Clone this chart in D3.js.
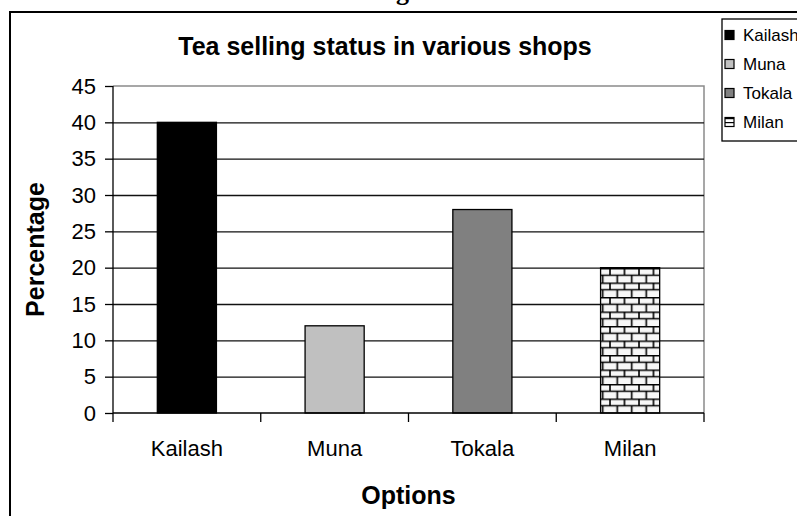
<!DOCTYPE html>
<html>
<head>
<meta charset="utf-8">
<script src="https://cdn.jsdelivr.net/npm/d3@7"></script>
<style>
  html, body { margin: 0; padding: 0; background: #fff; }
  svg { display: block; }
  text { font-family: "Liberation Sans", Arial, sans-serif; fill: #000; }
</style>
</head>
<body>
<svg id="chart" width="797" height="516"></svg>
<script>
// Shops and their tea selling percentages
const categories = ["Kailash", "Muna", "Tokala", "Milan"];
const values = [40, 12, 28, 20];
const yTicks = [0, 5, 10, 15, 20, 25, 30, 35, 40, 45];
const titleText = "Tea selling status in various shops";
const xTitle = "Options";
const yTitle = "Percentage";

const fills = ["#000000", "#c0c0c0", "#808080", "url(#brick)"];

const svg = d3.select("#chart");
const plot = { left: 113, top: 86, right: 704, bottom: 413 };

// Brick fill used by the last bar and its legend key
const defs = svg.append("defs");
const s = 14.5;
const pat = defs.append("pattern")
  .attr("id", "brick").attr("patternUnits", "userSpaceOnUse")
  .attr("x", 0).attr("y", plot.bottom)
  .attr("width", s).attr("height", s);
pat.append("rect").attr("width", s).attr("height", s).attr("fill", "#f7f7f7");
pat.append("path")
  .attr("d", `M0,0.6H${s} M0,${s/2}H${s} M1,0V${s/2} M${s/2+1},${s/2}V${s}`)
  .attr("stroke", "#000").attr("stroke-width", 1.6).attr("fill", "none");
const small = defs.append("pattern")
  .attr("id", "brickSmall").attr("patternUnits", "userSpaceOnUse")
  .attr("width", 8).attr("height", 4);
small.append("rect").attr("width", 8).attr("height", 4).attr("fill", "#fff");
small.append("path").attr("d", "M0,0.5H8").attr("stroke", "#000").attr("stroke-width", 1.4);

// Partially visible heading above the chart frame
svg.append("text")
  .attr("x", 396).attr("y", 0)
  .style("font-family", "'Liberation Serif', 'Times New Roman', serif")
  .style("font-weight", "bold").style("font-size", "26px")
  .text("g");

// Chart area frame
svg.append("rect")
  .attr("x", 10).attr("y", 12).attr("width", 820).attr("height", 540)
  .attr("fill", "none").attr("stroke", "#000").attr("stroke-width", 2);

const x = d3.scaleBand()
  .domain(categories)
  .range([plot.left, plot.right])
  .paddingInner(0.6).paddingOuter(0.3);

const y = d3.scaleLinear()
  .domain([0, 45])
  .range([plot.bottom, plot.top]);

// Plot area border (top / right)
svg.append("path")
  .attr("d", `M${plot.left},${plot.top}H${plot.right}V${plot.bottom}`)
  .attr("fill", "none").attr("stroke", "#8a8a8a").attr("stroke-width", 1.5);

// Horizontal gridlines
const grid = svg.append("g")
  .attr("transform", `translate(${plot.left},0)`)
  .call(d3.axisLeft(y).tickValues(yTicks.filter(t => t > 0 && t < 45))
    .tickSize(-(plot.right - plot.left)).tickFormat(""));
grid.select(".domain").remove();
grid.selectAll("line").attr("stroke", "#111").attr("stroke-width", 1.4);

// Bars
svg.append("g").selectAll("rect")
  .data(categories)
  .join("rect")
  .attr("x", d => x(d))
  .attr("y", (d, i) => y(values[i]))
  .attr("width", x.bandwidth())
  .attr("height", (d, i) => y(0) - y(values[i]))
  .attr("fill", (d, i) => fills[i])
  .attr("stroke", "#000").attr("stroke-width", 1.3);

// Y axis
const yAxis = svg.append("g")
  .attr("transform", `translate(${plot.left},0)`)
  .call(d3.axisLeft(y).tickValues(yTicks).tickSize(8).tickPadding(9));
yAxis.selectAll("line").attr("stroke", "#000").attr("stroke-width", 1.3);
yAxis.select(".domain").attr("stroke", "#000").attr("stroke-width", 1.3).attr("d", `M0,${plot.top}V${plot.bottom}`);
yAxis.selectAll("text").style("font-size", "22px").attr("fill", "#000");

// X axis with tick marks on category boundaries
const xAxis = svg.append("g")
  .attr("transform", `translate(0,${plot.bottom})`)
  .call(d3.axisBottom(x).tickSize(0).tickPadding(27));
xAxis.select(".domain").attr("stroke", "#000").attr("stroke-width", 1.3)
  .attr("d", `M${plot.left},0H${plot.right}`);
xAxis.selectAll("text").style("font-size", "22px").attr("fill", "#000");
const bounds = categories.map(c => x(c) - x.step() * x.paddingOuter()).concat([plot.right]);
xAxis.selectAll("line.bound")
  .data(bounds).join("line").attr("class", "bound")
  .attr("x1", d => d).attr("x2", d => d)
  .attr("y1", 0).attr("y2", 9)
  .attr("stroke", "#000").attr("stroke-width", 1.3);

// Titles
svg.append("text")
  .attr("x", 385).attr("y", 55).attr("text-anchor", "middle")
  .style("font-weight", "bold").style("font-size", "25px")
  .text(titleText);

svg.append("text")
  .attr("x", (plot.left + plot.right) / 2).attr("y", 504).attr("text-anchor", "middle")
  .style("font-weight", "bold").style("font-size", "25px")
  .text(xTitle);

svg.append("text")
  .attr("transform", `translate(44,${(plot.top + plot.bottom) / 2}) rotate(-90)`)
  .attr("text-anchor", "middle")
  .style("font-weight", "bold").style("font-size", "25px")
  .text(yTitle);

// Legend
const legend = svg.append("g");
legend.append("rect")
  .attr("x", 722).attr("y", 19).attr("width", 100).attr("height", 122)
  .attr("fill", "#fff").attr("stroke", "#000").attr("stroke-width", 1.3);
const legendFills = ["#000000", "#c0c0c0", "#808080", "url(#brickSmall)"];
const item = legend.selectAll("g.item")
  .data(categories).join("g").attr("class", "item")
  .attr("transform", (d, i) => `translate(725,${35 + i * 29})`);
item.append("rect")
  .attr("x", 0).attr("y", -4.5).attr("width", 9).attr("height", 9)
  .attr("fill", (d, i) => legendFills[i])
  .attr("stroke", "#000").attr("stroke-width", 1.2);
item.append("text")
  .attr("x", 18).attr("y", 0).attr("dy", "0.35em")
  .style("font-size", "17px")
  .text(d => d);
</script>
</body>
</html>
